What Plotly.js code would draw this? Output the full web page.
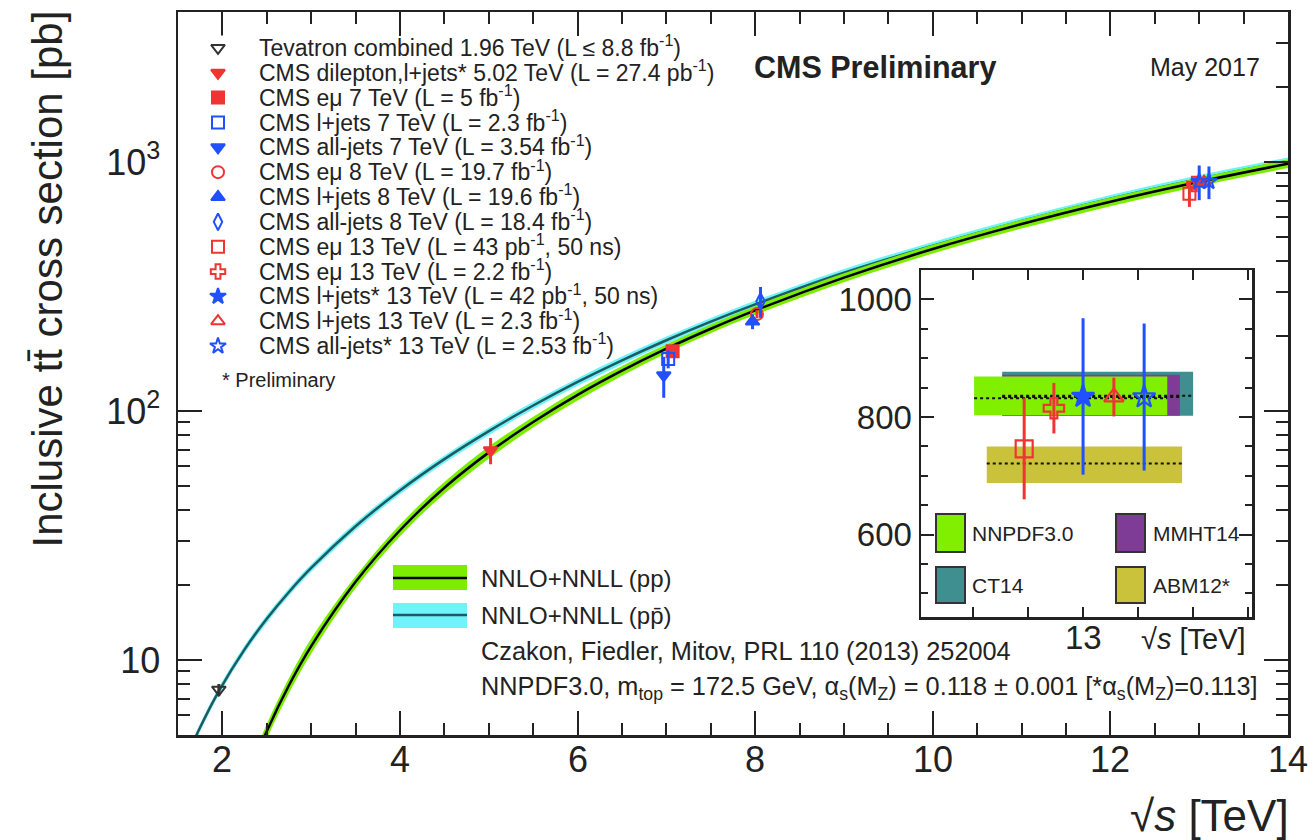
<!DOCTYPE html>
<html>
<head>
<meta charset="utf-8">
<script src="https://cdn.plot.ly/plotly-3.0.1.min.js"></script>
<style>
html,body{margin:0;padding:0;background:#fff;}
#chart{width:1314px;height:840px;}
</style>
</head>
<body>
<div id="chart"></div>
<script>
// ---------------- DATA ----------------
// NNLO+NNLL (pp) prediction
const ppEnergy = [2.0, 2.25, 2.5, 2.75, 3.0, 3.5, 4.0, 4.5, 5.02, 5.5, 6.0, 6.5, 7.0, 7.5, 8.0, 9.0, 10.0, 11.0, 12.0, 13.0, 14.0];
const ppSigma  = [1.69, 3.12, 5.18, 7.92, 11.37, 20.6, 33.2, 49.2, 69.0, 90.3, 116.0, 145.1, 177.8, 213.9, 253.5, 343, 447, 563, 692, 832, 984];
const ppLo     = [1.57, 2.90, 4.82, 7.37, 10.6, 19.4, 31.4, 46.5, 65.2, 85.8, 110.2, 138.6, 170.4, 205.3, 243.4, 329, 429, 540, 664, 799, 945];
const ppHi     = [1.81, 3.34, 5.54, 8.47, 12.2, 21.7, 35.0, 51.9, 72.8, 94.8, 121.8, 151.6, 185.2, 222.5, 263.6, 357, 465, 586, 720, 865, 1023];

// NNLO+NNLL (p pbar) prediction
const ppbarEnergy = [1.6, 1.75, 1.96, 2.25, 2.5, 2.75, 3.0, 3.5, 4.0, 4.5, 5.02, 5.5, 6.0, 6.5, 7.0, 7.5, 8.0, 9.0, 10.0, 11.0, 12.0, 13.0, 14.0];
const ppbarSigma  = [4.10, 5.37, 7.5, 11.04, 14.64, 18.76, 23.42, 34.43, 47.96, 64.08, 83.8, 105.2, 130.8, 159.8, 192.3, 228.5, 268, 359, 461, 579, 712, 855, 1008];
const ppbarLo     = [3.96, 5.18, 7.24, 10.65, 14.13, 18.10, 22.60, 33.22, 46.28, 61.84, 80.9, 101.5, 126.2, 154.2, 185.6, 220.5, 258.6, 346, 445, 559, 687, 825, 973];
const ppbarHi     = [4.24, 5.56, 7.76, 11.43, 15.15, 19.42, 24.24, 35.64, 49.64, 66.32, 86.7, 108.9, 135.4, 165.4, 199.0, 236.5, 277.4, 372, 477, 599, 737, 885, 1043];

// Measurements
const measLabels = [
  'Tevatron combined 1.96 TeV (L \u2264 8.8 fb<sup>-1</sup>)',
  'CMS dilepton,l+jets* 5.02 TeV (L = 27.4 pb<sup>-1</sup>)',
  'CMS e\u03bc 7 TeV (L = 5 fb<sup>-1</sup>)',
  'CMS l+jets 7 TeV (L = 2.3 fb<sup>-1</sup>)',
  'CMS all-jets 7 TeV (L = 3.54 fb<sup>-1</sup>)',
  'CMS e\u03bc 8 TeV (L = 19.7 fb<sup>-1</sup>)',
  'CMS l+jets 8 TeV (L = 19.6 fb<sup>-1</sup>)',
  'CMS all-jets 8 TeV (L = 18.4 fb<sup>-1</sup>)',
  'CMS e\u03bc 13 TeV (L = 43 pb<sup>-1</sup>, 50 ns)',
  'CMS e\u03bc 13 TeV (L = 2.2 fb<sup>-1</sup>)',
  'CMS l+jets* 13 TeV (L = 42 pb<sup>-1</sup>, 50 ns)',
  'CMS l+jets 13 TeV (L = 2.3 fb<sup>-1</sup>)',
  'CMS all-jets* 13 TeV (L = 2.53 fb<sup>-1</sup>)'
];
const measEnergy = [1.96, 5.02, 7.07, 7.02, 6.97, 8.02, 7.97, 8.06, 12.89, 12.945, 13.0, 13.055, 13.11];
const measSigma  = [7.60, 69.5, 173.6, 161.7, 139, 244.9, 228.5, 275.6, 746, 815, 835, 834, 834];
const measErr    = [0.41, 8.4, 7.4, 13.4, 26, 9.3, 15.5, 39, 86, 43, 133, 33, 125];

// Inset (13 TeV zoom): positions of the 13 TeV points inside the inset
const insetEnergy = [12.893, 12.947, 13.0, 13.056, 13.111];
const insetIndex  = [8, 9, 10, 11, 12];

// PDF predictions at 13 TeV
const pdfNames   = ['CT14', 'MMHT14', 'NNPDF3.0', 'ABM12*'];
const pdfCentral = [836, 834, 832, 721];
const pdfLo      = [802, 802, 803, 688];
const pdfHi      = [877, 872, 869, 750];

// tick labels
const xTickVals = [2, 4, 6, 8, 10, 12, 14];
const xTickText = ['2', '4', '6', '8', '10', '12', '14'];
const yTickVals = [10, 100, 1000];
const yTickText = ['10', '10<sup>2</sup>', '10<sup>3</sup>'];
const insetYTicks = [600, 800, 1000];
const insetXLabel = 13;

// ---------------- STYLE ----------------
const FONT = 'Liberation Sans, Arial, Helvetica, sans-serif';
const TXT = '#222222';
const RED = '#f03434';
const BLUE = '#2050ff';
const GREY = '#333333';
const GREEN = '#7ded00';
const CYAN = '#6ef4fa';
const PPBAR_LINE = '#1f5a62';
const measStyle = [
  {symbol:'triangle-down-open', color:GREY},
  {symbol:'triangle-down', color:RED},
  {symbol:'square', color:RED},
  {symbol:'square-open', color:BLUE},
  {symbol:'triangle-down', color:BLUE},
  {symbol:'circle-open', color:RED},
  {symbol:'triangle-up', color:BLUE},
  {symbol:'diamond-tall-open', color:BLUE},
  {symbol:'square-open', color:RED},
  {symbol:'cross-open', color:RED},
  {symbol:'star', color:BLUE},
  {symbol:'triangle-up-open', color:RED},
  {symbol:'star-open', color:BLUE}
];
const pdfStyle = {
  'CT14':     {color:'#3f8f90', x0:12.853, x1:13.2},
  'MMHT14':   {color:'#7f3c97', x0:12.853, x1:13.176},
  'NNPDF3.0': {color:'#80f000', x0:12.802, x1:13.153},
  'ABM12*':   {color:'#cbc23c', x0:12.825, x1:13.18}
};

// geometry helpers (plot area: x 178..1288, y 12..735)
const PL = 178, PR = 1288, PT = 12, PB = 735;
const px = v => (v - PL) / (PR - PL);
const py = v => (PB - v) / (PB - PT);

// ---------------- TRACES ----------------
const traces = [];
function band(xs, lo, hi, mid, fillc, linec) {
  const ln = {width:0, shape:'spline', smoothing:1};
  traces.push({x: xs, y: lo, mode:'lines', line:ln, hoverinfo:'skip', showlegend:false, xaxis:'x', yaxis:'y'});
  traces.push({x: xs, y: hi, mode:'lines', fill:'tonexty', fillcolor:fillc, line:ln, hoverinfo:'skip', showlegend:false, xaxis:'x', yaxis:'y'});
  traces.push({x: xs, y: mid, mode:'lines', line:{color:linec, width:2.5, shape:'spline', smoothing:1}, hoverinfo:'skip', showlegend:false, xaxis:'x', yaxis:'y'});
}
band(ppbarEnergy, ppbarLo, ppbarHi, ppbarSigma, CYAN, PPBAR_LINE);
band(ppEnergy, ppLo, ppHi, ppSigma, GREEN, '#000000');

measLabels.forEach((lab, i) => {
  const st = measStyle[i];
  traces.push({
    x:[measEnergy[i]], y:[measSigma[i]], mode:'markers', xaxis:'x', yaxis:'y',
    error_y:{type:'data', array:[measErr[i]], visible:true, color:st.color, thickness:3, width:0},
    marker:{symbol:st.symbol, color:st.color, size:12, line:{color:st.color, width:2}},
    showlegend:false, hoverinfo:'skip', cliponaxis:true
  });
});

// inset PDF bands
pdfNames.forEach((n, k) => {
  const s = pdfStyle[n];
  traces.push({
    x:[s.x0, s.x1, s.x1, s.x0, s.x0], y:[pdfLo[k], pdfLo[k], pdfHi[k], pdfHi[k], pdfLo[k]],
    mode:'lines', fill:'toself', fillcolor:s.color, line:{width:0, color:s.color},
    xaxis:'x2', yaxis:'y2', showlegend:false, hoverinfo:'skip'
  });
});
pdfNames.forEach((n, k) => {
  const s = pdfStyle[n];
  traces.push({
    x:[s.x0, s.x1], y:[pdfCentral[k], pdfCentral[k]], mode:'lines',
    line:{color:'#111', width:2, dash:'dot'},
    xaxis:'x2', yaxis:'y2', showlegend:false, hoverinfo:'skip'
  });
});
// inset points
insetIndex.forEach((i, k) => {
  const st = measStyle[i];
  traces.push({
    x:[insetEnergy[k]], y:[measSigma[i]], mode:'markers', xaxis:'x2', yaxis:'y2',
    error_y:{type:'data', array:[measErr[i]], visible:true, color:st.color, thickness:3, width:0},
    marker:{symbol:st.symbol, color:st.color, size:17, line:{color:st.color, width:2.2}},
    showlegend:false, hoverinfo:'skip'
  });
});

// legend: symbols on a category axis built from the labels
traces.push({
  x: measLabels.map(() => 0), y: measLabels, mode:'markers', xaxis:'x3', yaxis:'y3',
  marker:{symbol: measStyle.map(s => s.symbol), color: measStyle.map(s => s.color), size:12,
          line:{color: measStyle.map(s => s.color), width:2}},
  showlegend:false, hoverinfo:'skip'
});

// ---------------- LAYOUT ----------------
const axLine = {showline:true, linecolor:'#222', linewidth:2.5, mirror:'ticks', showgrid:false, zeroline:false, ticks:'inside', tickcolor:'#222'};

const annList = [
  {text:'Inclusive tt\u0304 cross section [pb]', x:px(47), y:py(9), xanchor:'center', yanchor:'top', textangle:-90, font:{size:42, color:TXT}},
  {text:'\u221a<i>s</i> [TeV]', x:px(1291), y:py(815), xanchor:'right', yanchor:'middle', font:{size:44, color:TXT}},
  {text:'<b>CMS Preliminary</b>', x:px(752), y:py(68), xanchor:'left', yanchor:'middle', font:{size:30.5, color:TXT}},
  {text:'May 2017', x:px(1262), y:py(67), xanchor:'right', yanchor:'middle', font:{size:25, color:TXT}},
  {text:'* Preliminary', x:px(220), y:py(380), xanchor:'left', yanchor:'middle', font:{size:20, color:TXT}},
  {text:'NNLO+NNLL (pp)', x:px(479), y:py(578), xanchor:'left', yanchor:'middle', font:{size:24, color:TXT}},
  {text:'NNLO+NNLL (pp\u0304)', x:px(479), y:py(615), xanchor:'left', yanchor:'middle', font:{size:24, color:TXT}},
  {text:'Czakon, Fiedler, Mitov, PRL 110 (2013) 252004', x:px(479), y:py(651), xanchor:'left', yanchor:'middle', font:{size:25.3, color:TXT}},
  {text:'NNPDF3.0, m<sub>top</sub> = 172.5 GeV, \u03b1<sub>s</sub>(M<sub>Z</sub>) = 0.118 \u00b1 0.001 [*\u03b1<sub>s</sub>(M<sub>Z</sub>)=0.113]', x:px(479), y:py(688), xanchor:'left', yanchor:'middle', font:{size:25.3, color:TXT}},
  {text:'NNPDF3.0', x:px(970), y:py(533), xanchor:'left', yanchor:'middle', font:{size:21, color:TXT}},
  {text:'MMHT14', x:px(1151), y:py(533), xanchor:'left', yanchor:'middle', font:{size:21, color:TXT}},
  {text:'CT14', x:px(970), y:py(585), xanchor:'left', yanchor:'middle', font:{size:21, color:TXT}},
  {text:'ABM12*', x:px(1151), y:py(585), xanchor:'left', yanchor:'middle', font:{size:21, color:TXT}},
  {text:'\u221a<i>s</i> [TeV]', x:px(1248), y:py(639), xanchor:'right', yanchor:'middle', font:{size:29, color:TXT}}
];
// x tick labels placed through the x axis scale
xTickVals.forEach((v, i) => annList.push({text:xTickText[i], xref:'x', x:v, y:py(759), xanchor:'center', yanchor:'middle', font:{size:36, color:TXT}}));
annList.push({text:String(insetXLabel), xref:'x2', x:insetXLabel, y:py(637), xanchor:'center', yanchor:'middle', font:{size:33, color:TXT}});

const annotations = annList.map(a => Object.assign({xref:'paper', yref:'paper', showarrow:false}, a, {font:Object.assign({family:FONT}, a.font)}));

const shapes = [
  {type:'rect', x0:px(393), x1:px(467), y0:py(590), y1:py(565), fillcolor:GREEN, line:{width:0}},
  {type:'line', x0:px(393), x1:px(467), y0:py(578), y1:py(578), line:{color:'#000', width:2.5}},
  {type:'rect', x0:px(393), x1:px(467), y0:py(628), y1:py(603), fillcolor:CYAN, line:{width:0}},
  {type:'line', x0:px(393), x1:px(467), y0:py(615), y1:py(615), line:{color:PPBAR_LINE, width:2.5}},
  {type:'rect', x0:px(936), x1:px(965), y0:py(552), y1:py(514), fillcolor:pdfStyle['NNPDF3.0'].color, line:{color:'#333', width:2}},
  {type:'rect', x0:px(1116), x1:px(1145), y0:py(552), y1:py(514), fillcolor:pdfStyle['MMHT14'].color, line:{color:'#333', width:2}},
  {type:'rect', x0:px(936), x1:px(965), y0:py(603), y1:py(567), fillcolor:pdfStyle['CT14'].color, line:{color:'#333', width:2}},
  {type:'rect', x0:px(1116), x1:px(1145), y0:py(603), y1:py(567), fillcolor:pdfStyle['ABM12*'].color, line:{color:'#333', width:2}}
].map(s => Object.assign({xref:'paper', yref:'paper', layer:'above'}, s));

const layout = {
  width:1314, height:840,
  margin:{l:PL, r:1314-PR, t:PT, b:840-PB, autoexpand:false},
  paper_bgcolor:'#fff', plot_bgcolor:'#fff',
  font:{family:FONT, color:TXT},
  showlegend:false,
  xaxis: Object.assign({}, axLine, {
    domain:[0,1], anchor:'y', range:[1.5, 14], tickmode:'array', tickvals:xTickVals, showticklabels:false,
    ticklen:24, tickwidth:2,
    minor:{dtick:0.5, tick0:0, ticks:'inside', ticklen:12, tickwidth:2, tickcolor:'#222', showgrid:false}
  }),
  yaxis: Object.assign({}, axLine, {
    domain:[0,1], anchor:'x', type:'log', range:[Math.log10(5), Math.log10(4000)],
    tickmode:'array', tickvals:yTickVals, ticktext:yTickText,
    ticklen:24, tickwidth:2, tickfont:{size:36, family:FONT, color:TXT}, ticklabelstandoff:8,
    minor:{dtick:'D1', ticks:'inside', ticklen:12, tickwidth:2, tickcolor:'#222', showgrid:false}
  }),
  xaxis2: Object.assign({}, axLine, {
    domain:[px(921), px(1252)], anchor:'y2', range:[12.7055, 13.307],
    tickmode:'linear', tick0:12.8, dtick:0.1, showticklabels:false,
    ticklen:10, tickwidth:2
  }),
  yaxis2: Object.assign({}, axLine, {
    domain:[py(617), py(270)], anchor:'x2', range:[460, 1050],
    tickmode:'array', tickvals:insetYTicks,
    ticklen:13, tickwidth:2, tickfont:{size:33, family:FONT, color:TXT}, ticklabelstandoff:0,
    minor:{dtick:50, tick0:0, ticks:'inside', ticklen:7, tickwidth:2, tickcolor:'#222', showgrid:false}
  }),
  xaxis3: {domain:[0, px(258)], anchor:'y3', range:[-40, 40], visible:false, fixedrange:true},
  yaxis3: {domain:[py(358.5), py(35.5)], anchor:'x3', side:'right', type:'category',
    categoryorder:'array', categoryarray:measLabels, range:[measLabels.length - 0.5, -0.5],
    tickmode:'array', tickvals:measLabels, showgrid:false, zeroline:false, showline:false, ticks:'',
    tickfont:{size:23, family:FONT, color:TXT}, fixedrange:true},
  annotations: annotations,
  shapes: shapes
};

Plotly.newPlot('chart', traces, layout, {displayModeBar:false, staticPlot:true});
</script>
</body>
</html>
